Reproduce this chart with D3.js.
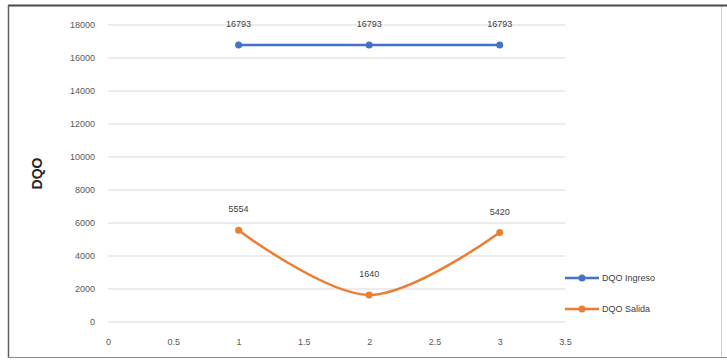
<!DOCTYPE html>
<html>
<head>
<meta charset="utf-8">
<script src="https://cdn.jsdelivr.net/npm/d3@7"></script>
<style>
  html, body { margin: 0; padding: 0; background: #fff; }
  svg { display: block; font-family: "Liberation Sans", "DejaVu Sans", sans-serif; }
</style>
</head>
<body>
<svg id="chart" width="727" height="360"></svg>
<script>
// Sample positions along the x axis
const xPositions = [1, 2, 3];
// DQO values for each series
const dqoIngreso = [16793, 16793, 16793];
const dqoSalida = [5554, 1640, 5420];
const seriesNames = ["DQO Ingreso", "DQO Salida"];
const seriesColors = ["#4472C4", "#ED7D31"];
// Axis ticks
const yTicks = [0, 2000, 4000, 6000, 8000, 10000, 12000, 14000, 16000, 18000];
const xTicks = [0, 0.5, 1, 1.5, 2, 2.5, 3, 3.5];

const svg = d3.select("#chart");

// outer chart frame: faint right edge, darker top, left and bottom edges
svg.append("line").attr("x1", 721.5).attr("x2", 721.5).attr("y1", 6).attr("y2", 357)
  .attr("stroke", "#d0d0d0").attr("stroke-width", 1);
svg.append("line").attr("x1", 8).attr("x2", 727).attr("y1", 5.5).attr("y2", 5.5)
  .attr("stroke", "#4a4a4a").attr("stroke-width", 2);
svg.append("line").attr("x1", 8.5).attr("x2", 8.5).attr("y1", 5).attr("y2", 358)
  .attr("stroke", "#606060").attr("stroke-width", 1.5);
svg.append("line").attr("x1", 8).attr("x2", 727).attr("y1", 357.5).attr("y2", 357.5)
  .attr("stroke", "#8a8a8a").attr("stroke-width", 1.2);

const x = d3.scaleLinear().domain([0, 3.5]).range([108, 565]);
const y = d3.scaleLinear().domain([0, 18000]).range([322, 25]);

// horizontal gridlines
svg.append("g")
  .selectAll("line")
  .data(yTicks)
  .join("line")
  .attr("x1", x(0)).attr("x2", x(3.5))
  .attr("y1", d => y(d)).attr("y2", d => y(d))
  .attr("stroke", "#d9d9d9").attr("stroke-width", 1);

// y axis labels
const yAxis = d3.axisLeft(y).tickValues(yTicks).tickSize(0).tickPadding(13).tickFormat(d3.format("d"));
svg.append("g")
  .attr("transform", `translate(${x(0)},0)`)
  .call(yAxis)
  .call(g => g.select(".domain").remove())
  .call(g => g.selectAll("text").attr("fill", "#595959").attr("font-size", 9));

// x axis labels
const xAxis = d3.axisBottom(x).tickValues(xTicks).tickSize(0).tickPadding(17).tickFormat(d3.format("~g"));
svg.append("g")
  .attr("transform", `translate(0,${y(0)})`)
  .call(xAxis)
  .call(g => g.select(".domain").remove())
  .call(g => g.selectAll("text").attr("fill", "#595959").attr("font-size", 9));

// y axis title
svg.append("text")
  .attr("transform", `translate(42,${(y(0) + y(18000)) / 2}) rotate(-90)`)
  .attr("text-anchor", "middle")
  .attr("font-size", 14).attr("font-weight", "bold")
  .attr("fill", "#262626")
  .text("DQO");

const seriesData = [dqoIngreso, dqoSalida].map((vals, i) => ({
  name: seriesNames[i],
  color: seriesColors[i],
  points: vals.map((v, j) => ({ x: xPositions[j], v }))
}));

const line = d3.line()
  .x(d => x(d.x)).y(d => y(d.v))
  .curve(d3.curveCatmullRom.alpha(0.5));

const series = svg.append("g").selectAll("g").data(seriesData).join("g");

series.append("path")
  .attr("d", d => line(d.points))
  .attr("fill", "none")
  .attr("stroke", d => d.color)
  .attr("stroke-width", 2.5);

series.each(function (s) {
  const g = d3.select(this);
  g.selectAll("circle")
    .data(s.points)
    .join("circle")
    .attr("cx", d => x(d.x)).attr("cy", d => y(d.v))
    .attr("r", 3.5)
    .attr("fill", s.color);
  g.selectAll("text.label")
    .data(s.points)
    .join("text")
    .attr("class", "label")
    .attr("x", d => x(d.x)).attr("y", d => y(d.v) - 18)
    .attr("text-anchor", "middle")
    .attr("font-size", 9)
    .attr("fill", "#404040")
    .text(d => d.v);
});

// legend
const legend = svg.append("g").selectAll("g").data(seriesData).join("g")
  .attr("transform", (d, i) => `translate(565,${278 + i * 31})`);
legend.append("line")
  .attr("x1", 0).attr("x2", 34)
  .attr("stroke", d => d.color).attr("stroke-width", 2.5);
legend.append("circle")
  .attr("cx", 17).attr("r", 3.5)
  .attr("fill", d => d.color);
legend.append("text")
  .attr("x", 37).attr("dy", "0.35em")
  .attr("font-size", 9)
  .attr("fill", "#404040")
  .text(d => d.name);
</script>
</body>
</html>
